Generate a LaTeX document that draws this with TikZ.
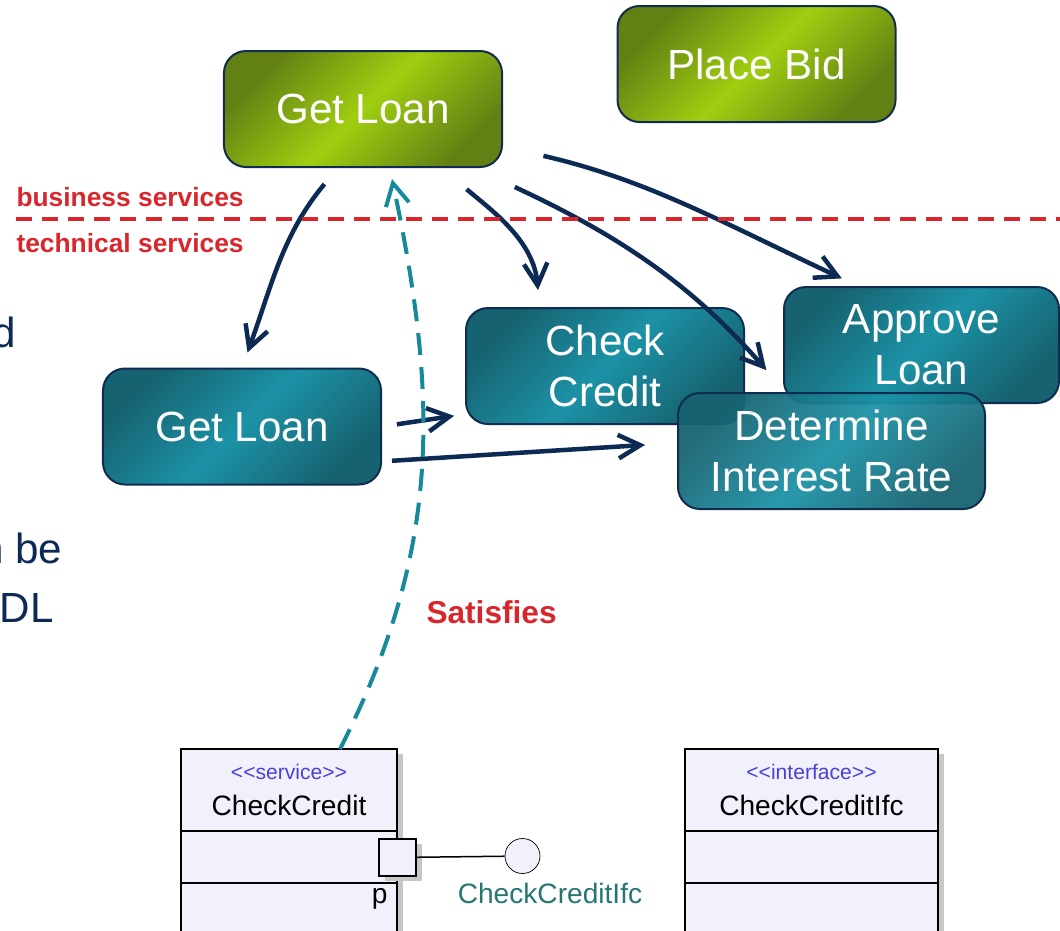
\documentclass[tikz,border=0pt]{standalone}
\usepackage{fontspec}
\setmainfont{Liberation Sans}
\usetikzlibrary{arrows.meta}
\usetikzlibrary{positioning}
\usetikzlibrary{shadows}

\definecolor{navy}{RGB}{12,42,84}
\definecolor{leafdark}{RGB}{98,128,20}
\definecolor{leaflight}{RGB}{160,206,16}
\definecolor{seadark}{RGB}{22,98,112}
\definecolor{sealight}{RGB}{28,146,166}
\definecolor{boxline}{RGB}{16,44,80}
\definecolor{layerred}{RGB}{216,38,44}
\definecolor{satisfyteal}{RGB}{22,138,154}
\definecolor{umlfill}{RGB}{241,241,252}
\definecolor{stereo}{RGB}{78,64,214}
\definecolor{ifcteal}{RGB}{38,118,116}

\begin{document}
\begin{tikzpicture}[x=0.2mm,y=-0.2mm,>={Straight Barb[length=4.4mm,width=4.7mm]},semithick]
 \tikzstyle{service node}=[rectangle,rounded corners=4.4mm,draw=boxline,line width=0.4mm,
   minimum height=23.2mm,inner sep=0,align=center,text=white,
   font=\fontsize{24}{29}\selectfont]
 \tikzstyle{uml part}=[rectangle,draw=black,line width=0.35mm,fill=umlfill,outer sep=0,inner sep=0,
   general shadow={fill=black!22,shadow xshift=1.2mm,shadow yshift=-1mm}]
 \tikzset{
   business node/.style={service node,minimum width=55.6mm,
     top color=leafdark,bottom color=leafdark,middle color=leaflight,shading angle=45},
   technical node/.style={service node,minimum width=55.6mm,
     top color=seadark,bottom color=seadark,middle color=sealight,shading angle=45},
   flow/.style={->,draw=navy,line width=0.9mm},
   satisfy/.style={->,draw=satisfyteal,line width=0.8mm,dash pattern=on 4.4mm off 2.4mm},
   layer line/.style={draw=layerred,line width=0.65mm,dash pattern=on 3.2mm off 2mm},
   layer label/.style={text=layerred,font=\fontsize{15}{18}\selectfont\bfseries,inner sep=0},
   body text/.style={text=navy,font=\fontsize{24}{29}\selectfont,inner sep=0,anchor=base east},
   uml text/.style={font=\fontsize{16}{21}\selectfont,inner sep=0},
   uml head/.style={uml part,minimum height=16.4mm,align=center,font=\fontsize{16}{21}\selectfont}
 }
 \useasboundingbox (0,0) rectangle (1060,930);

 % left text running off the page
 \node[body text] (frag1) at (16,347) {d};
 \node[body text] (frag2) at (63,563) {n be};
 \node[body text] (frag3) at (54,622) {DL};

 % business services
 \node[business node] (getloan) at (363,109) {Get Loan};
 \node[business node] (placebid) at (756.5,64) {Place Bid};

 % technical services
 \node[technical node] (loansvc) at (242,426.5) {Get Loan};
 \node[technical node] (credit) at (605,366) {Check\\Credit};
 \node[technical node,minimum width=55mm] (approve) at (921.5,345) {Approve\\Loan};
 \node[technical node,minimum width=61.4mm,fill opacity=.94,text opacity=1] (rate) at (831.5,451) {Determine\\Interest Rate};

 % uml: service with its port
 \node[uml head,minimum width=43.2mm] (svc) at (289,790)
   {{\fontsize{12}{14}\selectfont\color{stereo}<{}<service>{}>}\\[0pt]CheckCredit};
 \node[uml part,minimum width=43.2mm,minimum height=10.4mm,below=0pt of svc] (svcops) {};
 \node[uml part,minimum width=43.2mm,minimum height=14mm,below=0pt of svcops] (svcparts) {};
 \node[uml part,minimum size=7.4mm] (port) at (397.5,857.5) {};
 \node[circle,draw=black,thin,fill=umlfill,minimum size=7mm,inner sep=0] (ifcball) at (522.5,856) {};
 \node[uml text,anchor=base east] (portname) at (388,903) {p};
 \node[uml text,text=ifcteal,anchor=base] (ifcname) at (550,903) {CheckCreditIfc};

 % uml: interface
 \node[uml head,minimum width=50.6mm] (ifc) at (811.5,790)
   {{\fontsize{12}{14}\selectfont\color{stereo}<{}<interface>{}>}\\[0pt]CheckCreditIfc};
 \node[uml part,minimum width=50.6mm,minimum height=10.4mm,below=0pt of ifc] (ifcops) {};
 \node[uml part,minimum width=50.6mm,minimum height=14mm,below=0pt of ifcops] (ifcattrs) {};

 \path (getloan.-113) edge[flow,out=-130,in=70,shorten <=4.2mm,shorten >=3.2mm] (loansvc.north);
 \path (getloan.-37) edge[flow,out=-40,in=95,shorten <=6.6mm,shorten >=3.4mm] (credit.138);
 \path (getloan.-28) edge[flow,out=-25,in=131,shorten <=9mm,shorten >=5.8mm] (rate.128);
 \path (getloan.-15) edge[flow,out=-13,in=155,shorten <=8.3mm,shorten >=3.6mm] (approve.137);
 \path (loansvc.east) edge[flow,shorten <=3mm,shorten >=2.2mm] (credit.199);
 \path (loansvc.-14) edge[flow,shorten <=2mm,shorten >=6.4mm] (rate.177);

 \draw[line width=0.3mm] (port) -- (ifcball);

 % layer boundary
 \node[layer label,anchor=base west] (bizlabel) at (16,206) {business services};
 \node[layer label,anchor=base west] (techlabel) at (16,252) {technical services};
 \coordinate (layerW) at (16,219);
 \coordinate (layerE) at (1060,219);
 \path[layer line] (layerW) -- (layerE);

 \coordinate (svctop) at (340,749);
 \path (svctop) edge[satisfy,out=63,in=-78] ([xshift=5.8mm,yshift=-2.2mm]getloan.south);
 \node[text=layerred,font=\fontsize{18}{21}\selectfont\bfseries,inner sep=0,anchor=base west] (satisfies) at (426,623) {Satisfies};
\end{tikzpicture}
\end{document}
